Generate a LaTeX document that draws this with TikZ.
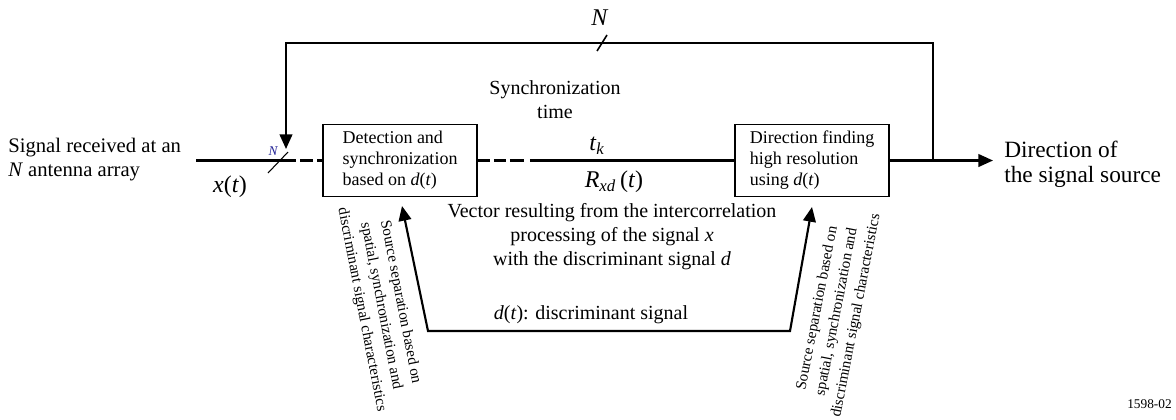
\documentclass[tikz,border=0pt]{standalone}
\usepackage{fontspec}
\setmainfont{Liberation Serif}
\usetikzlibrary{arrows.meta}
\definecolor{nblue}{RGB}{35,35,150}
\begin{document}
\begin{tikzpicture}[x=0.75pt,y=-0.75pt,
  line/.style={line width=1.6pt,line join=miter},
  tip/.style={-{Triangle[length=11pt,width=9.5pt]}},
  blk/.style={draw,line width=1.3pt,minimum width=115.5pt,minimum height=54pt,
    align=left,inner sep=0pt,font=\fontsize{13.5}{15.75}\selectfont},
  lbl/.style={inner sep=0pt,align=center,font=\fontsize{15}{18}\selectfont},
  big/.style={inner sep=0pt,font=\fontsize{18}{20}\selectfont},
  side/.style={inner sep=0pt,align=center,font=\fontsize{11.4}{14.8}\selectfont},
  slash/.style={line width=0.8pt}]
\useasboundingbox (0,0) rectangle (1176,419);

% processing blocks
\node[blk] (det)  at (400,160.5) {Detection and\\synchronization\\based on \textit{d}(\textit{t})};
\node[blk] (dirf) at (812,160.5) {Direction finding\\high resolution\\using \textit{d}(\textit{t})};

% junction and end points
\coordinate (in)    at (196,160.5);
\coordinate (jn)    at (933,160.5);
\coordinate (out)   at (993,160.5);
\coordinate (topR)  at (933,43);
\coordinate (topL)  at (286,43);
\coordinate (fbTip) at (286,149);
\coordinate (sepL)  at (402,206);
\coordinate (cL)    at (428,331);
\coordinate (cR)    at (790,331);
\coordinate (sepR)  at (812,207);

% signal path
\draw[line,dash pattern=on 75pt off 3pt on 9.75pt off 3pt on 30pt] (in) -- (det.west);
\draw[line,dash pattern=on 9pt off 3pt on 9pt off 3pt on 10.5pt off 4.5pt on 300pt] (det.east) -- (dirf.west);
\draw[line,tip] (dirf.east) -- (out);

% feedback of the N directions
\draw[line,tip] (jn) -- (topR) -- (topL) -- (fbTip);

% bus markers
\draw[slash] (268,173) -- (288,152);
\draw[line width=1.2pt] (597,51) -- (607,35);

% source separation loop
\draw[line,{Triangle[length=11pt,width=9.5pt]}-{Triangle[length=11pt,width=9.5pt]}]
  (sepL) -- (cL) -- (cR) -- (sepR);

% labels
\node[inner sep=0pt,anchor=west,align=left,font=\fontsize{15.5}{18}\selectfont] (src) at (8,160)
  {Signal received at an\\\textit{N} antenna array};
\node[big] (xt) at (230,187) {\textit{x}(\textit{t})};
\node[inner sep=0pt,text=nblue,font=\fontsize{10}{12}\selectfont\itshape] (nsmall) at (273,151) {N};
\node[big] (ntop) at (600,18) {\textit{N}};
\node[lbl] (sync) at (555,100) {Synchronization\\time};
\node[big] (tk) at (597,146) {\textit{t}\textsubscript{\textit{k}}};
\node[big] (rxd) at (614,182) {\textit{R}\textsubscript{\textit{xd}}\,(\textit{t})};
\node[lbl] (vec) at (612,237) {Vector resulting from the intercorrelation\\processing of the signal \textit{x}\\with the discriminant signal \textit{d}};
\node[lbl] (disc) at (591,315) {\textit{d}(\textit{t}): discriminant signal};
\node[side,rotate=-79] (sepLt) at (381,306) {Source separation based on\\spatial, synchronization and\\discriminant signal characteristics};
\node[side,rotate=79] (sepRt) at (837,312) {Source separation based on\\spatial, synchronization and\\discriminant signal characteristics};
\node[inner sep=0pt,anchor=west,align=left,font=\fontsize{17.5}{18.75}\selectfont] (dst) at (1004,164.5)
  {Direction of\\the signal source};
\node[inner sep=0pt,anchor=east,font=\fontsize{10}{12}\selectfont] (ref) at (1172,404) {1598-02};
\end{tikzpicture}
\end{document}
